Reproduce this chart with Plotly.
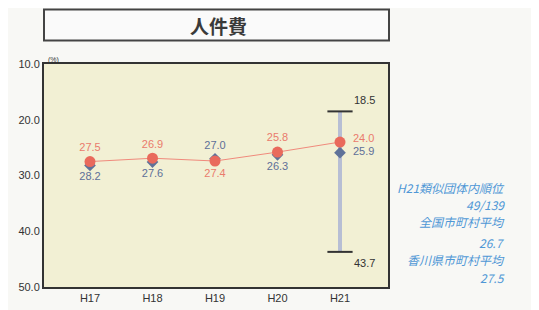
import plotly.graph_objects as go

categories = ["H17", "H18", "H19", "H20", "H21"]
city_values = [27.5, 26.9, 27.4, 25.8, 24.0]
group_avg_values = [28.2, 27.6, 27.0, 26.3, 25.9]
range_label = "H21"
range_max = 18.5
range_min = 43.7
y_ticks = [10.0, 20.0, 30.0, 40.0, 50.0]
side_notes = ["H21類似団体内順位", "49/139", "全国市町村平均", "26.7", "香川県市町村平均", "27.5"]
title = "人件費"

FONT = "Noto Sans CJK JP, Arial, sans-serif"
NUMFONT = "Liberation Sans, Arial, sans-serif"
RED = "#e96a5c"
RED_TXT = "#ea7b6c"
BLUE = "#5f7299"
BLUE_TXT = "#5e6f98"
NOTE = "#4f97d6"

# plot area in reference pixels: x 44..388, y 64..287 (page has 8px body margin)
PX0, PX1, PY0, PY1 = 44, 388, 64, 287


def px(x):
    return (x - PX0) / (PX1 - PX0)


def py(y):
    return (PY1 - y) / (PY1 - PY0)


fig = go.Figure()

# range bar for H21
fig.add_trace(go.Scatter(
    x=[range_label, range_label], y=[range_max, range_min],
    mode="lines", line=dict(color="#b7bed4", width=4),
    hoverinfo="skip", showlegend=False))
fig.add_trace(go.Scatter(
    x=[range_label, range_label], y=[range_max, range_min],
    mode="markers",
    marker=dict(symbol="line-ew", size=18, line=dict(color="#333333", width=2)),
    hoverinfo="skip", showlegend=False))

n = len(categories)
# group average (blue diamonds)
fig.add_trace(go.Scatter(
    x=categories, y=group_avg_values, mode="markers+text",
    marker=dict(symbol="diamond", size=9, color=BLUE),
    text=[f"{v:.1f}" for v in group_avg_values[:-1]] + [""],
    textposition=["bottom center", "bottom center", "top center", "bottom center", "middle right"],
    textfont=dict(family=NUMFONT, size=11, color=BLUE_TXT),
    showlegend=False))

# city values (red)
fig.add_trace(go.Scatter(
    x=categories, y=city_values, mode="lines+markers+text",
    line=dict(color="#f08a7c", width=1),
    marker=dict(symbol="circle", size=11, color=RED),
    text=[f"{v:.1f}" for v in city_values[:-1]] + [""],
    textposition=["top center", "top center", "bottom center", "top center", "middle right"],
    textfont=dict(family=NUMFONT, size=11, color=RED_TXT),
    showlegend=False))

# labels at H21
fig.add_annotation(x=categories[-1], y=city_values[-1], text=f"{city_values[-1]:.1f}",
                   showarrow=False, xanchor="left", yanchor="middle", xshift=11, yshift=4,
                   font=dict(family=NUMFONT, size=11, color=RED_TXT))
fig.add_annotation(x=categories[-1], y=group_avg_values[-1], text=f"{group_avg_values[-1]:.1f}",
                   showarrow=False, xanchor="left", yanchor="middle", xshift=11, yshift=2,
                   font=dict(family=NUMFONT, size=11, color=BLUE_TXT))
fig.add_annotation(x=range_label, y=range_max, text=f"{range_max:.1f}",
                   showarrow=False, xanchor="left", yanchor="middle", xshift=12, yshift=11,
                   font=dict(family=NUMFONT, size=11, color="#333333"))
fig.add_annotation(x=range_label, y=range_min, text=f"{range_min:.1f}",
                   showarrow=False, xanchor="left", yanchor="middle", xshift=12, yshift=-11,
                   font=dict(family=NUMFONT, size=11, color="#333333"))

W, H = 531, 302
fig.update_layout(
    width=W, height=H,
    margin=dict(l=PX0 - 8, r=W - (PX1 - 8), t=PY0 - 8, b=H - (PY1 - 8), autoexpand=False),
    paper_bgcolor="#f8f8f5",
    plot_bgcolor="#f2f0d4",
    font=dict(family=FONT, size=10, color="#333333"),
    xaxis=dict(type="category", categoryorder="array", categoryarray=categories,
               range=[-0.736, 4.768], showgrid=False, zeroline=False, automargin=False,
               showline=True, linecolor="#333333", linewidth=2, mirror=True,
               ticks="", tickfont=dict(family=NUMFONT, size=11, color="#333333")),
    yaxis=dict(range=[50, 10], tickvals=y_ticks, tickformat=".1f", automargin=False,
               showgrid=False, zeroline=False,
               showline=True, linecolor="#333333", linewidth=2, mirror=True,
               ticks="", ticklen=0, tickfont=dict(family=NUMFONT, size=11, color="#333333")),
)

# title box
fig.add_shape(type="rect", xref="paper", yref="paper",
              x0=0, x1=px(389), y0=py(40.5), y1=py(9.5),
              line=dict(color="#444444", width=2), fillcolor="#fafafa", layer="above")
fig.add_annotation(xref="paper", yref="paper", x=px(218), y=py(25.5), text=f"<b>{title}</b>",
                   showarrow=False, font=dict(family=FONT, size=19, color="#3a3a3a"),
                   xanchor="center", yanchor="middle")

# unit label
fig.add_annotation(xref="paper", yref="paper", x=px(46), y=py(60), text="(%)",
                   showarrow=False, font=dict(family=NUMFONT, size=7, color="#333333"),
                   xanchor="left", yanchor="middle")

# side notes
note_y = [187, 204, 221, 242, 259, 277]
for t, yy in zip(side_notes, note_y):
    fig.add_annotation(xref="paper", yref="paper", x=px(507),
                       y=py(yy), text=f"<i>{t}</i>", showarrow=False,
                       xanchor="right", yanchor="middle",
                       font=dict(family=FONT, size=12, color=NOTE))

fig.write_html("out.html")
